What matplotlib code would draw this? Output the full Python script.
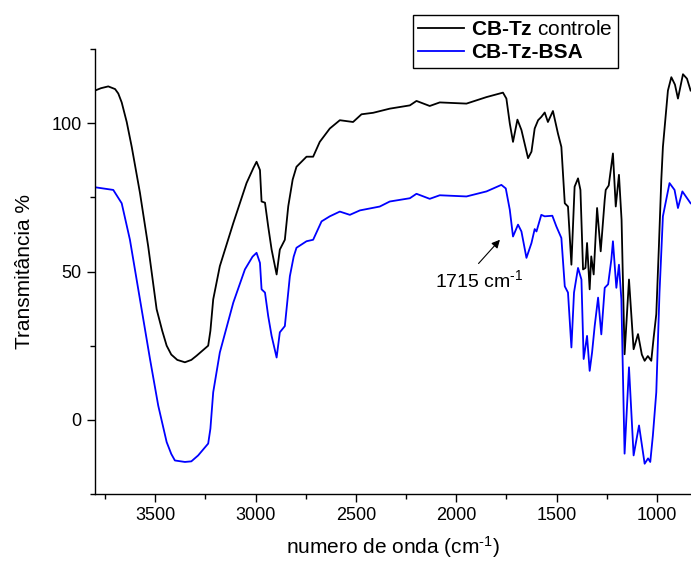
import matplotlib
matplotlib.use("Agg")
import matplotlib.pyplot as plt
from matplotlib.ticker import MultipleLocator

plt.rcParams['font.family'] = ['Liberation Sans', 'DejaVu Sans']
plt.rcParams['mathtext.fontset'] = 'custom'
plt.rcParams['mathtext.rm'] = 'Liberation Sans'
plt.rcParams['mathtext.bf'] = 'Liberation Sans:bold'
plt.rcParams['mathtext.it'] = 'Liberation Sans:italic'

# CB-Tz controle (black)
wn_ctrl = [3800, 3770, 3734, 3700, 3684, 3667, 3642, 3617, 3576, 3535, 3493, 3465, 3443, 3420,
           3390, 3352, 3320, 3294, 3236, 3225, 3211, 3178, 3111, 3045, 3010, 2995, 2978,
           2970, 2953, 2937, 2920, 2895, 2879, 2854, 2837, 2815, 2796, 2746, 2713, 2680,
           2630, 2580, 2514, 2472, 2414, 2331, 2231, 2198, 2132, 2082, 1949, 1849, 1767,
           1750, 1733, 1717, 1695, 1675, 1642, 1625, 1609, 1592, 1576, 1559, 1543, 1518,
           1493, 1476, 1459, 1443, 1426, 1410, 1393, 1381, 1368, 1356, 1348, 1335, 1327,
           1315, 1298, 1280, 1260, 1255, 1240, 1219, 1205, 1189, 1176, 1161, 1139, 1116,
           1094, 1075, 1061, 1045, 1028, 1016, 1003, 990, 978, 970, 945, 928, 910, 895,
           870, 850, 832]
t_ctrl = [111, 111.8, 112.4, 111.5, 110, 107, 100.4, 92, 76.5, 58.5, 37.3, 30, 25, 22,
          20.2, 19.4, 20.2, 21.6, 25, 30, 40.6, 51.8, 66.3, 79.8, 85, 87, 84.2,
          73.6, 73.2, 65.2, 57.4, 49, 57.4, 60.7, 72, 81, 85.3, 88.7, 88.7, 93.7,
          98.2, 101, 100.4, 103, 103.5, 104.9, 106, 107.5, 105.8, 107, 106.6, 108.8, 110.3,
          108.3, 99.9, 93.7, 101.2, 97.7, 88.2, 90.4, 98.2, 101, 102.1, 103.6, 100.4, 104.1,
          96.5, 92, 73, 71.9, 52.3, 78.6, 81.4, 77.5, 50.7, 51.2, 59.6, 44, 55.1,
          49, 71.4, 56.8, 74.2, 77.5, 79, 89.8, 71.9, 82.6, 67.4, 22.1, 47.3, 23.8,
          28.9, 22, 19.9, 21.5, 19.9, 27.8, 35.6, 58.5, 80.9, 92, 111, 115.5, 113, 108.3,
          116.5, 115, 111]

# CB-Tz-BSA (blue)
wn_bsa = [3800, 3709, 3667, 3626, 3576, 3526, 3485, 3443, 3420, 3402, 3352, 3320, 3286,
          3236, 3225, 3211, 3178, 3111, 3053, 3015, 2995, 2978, 2970, 2953, 2937, 2920,
          2895, 2879, 2854, 2829, 2810, 2796, 2746, 2713, 2671, 2630, 2580, 2530, 2480,
          2381, 2331, 2231, 2198, 2132, 2082, 1949, 1849, 1775, 1753, 1733, 1717, 1692,
          1675, 1650, 1625, 1609, 1600, 1576, 1559, 1521, 1501, 1476, 1459, 1443, 1426,
          1413, 1393, 1376, 1365, 1348, 1335, 1323, 1310, 1293, 1277, 1260, 1243, 1227,
          1219, 1202, 1189, 1177, 1161, 1139, 1116, 1089, 1061, 1044, 1033, 1020, 1003,
          987, 970, 937, 912, 895, 873, 832]
t_bsa = [78.4, 77.5, 73, 60.7, 40.6, 20.5, 4.8, -7.5, -11.5, -13.7, -14.2, -14, -12,
         -8, -3, 9.3, 22.7, 39.5, 50.7, 55, 56.3, 52.9, 44, 42.9, 35, 28.3,
         21, 29.5, 31.6, 48.4, 55, 58, 60.2, 60.7, 66.9, 68.6, 70.2, 69.1, 70.6,
         71.9, 73.6, 74.7, 76.2, 74.5, 75.7, 75.3, 77, 79.2, 78, 70.8, 61.8, 65.8,
         63.5, 54.6, 59.6, 64.3, 63.5, 69.1, 68.6, 68.8, 65.2, 61.3, 45, 42.9, 24.4,
         42.9, 51.2, 47.3, 20.5, 28.3, 16.5, 22.7, 31.6, 41.2, 28.8, 44.5, 45.7, 54,
         60.2, 44.5, 52.3, 40.6, -11.4, 17.7, -12, -1.9, -14.8, -13, -14.2, -5.3, 9.3,
         42.9, 68.6, 79.8, 77.5, 71.4, 77, 73]

fig = plt.figure(figsize=(6.91, 5.68), dpi=100)
ax = fig.add_axes([0.1375, 0.1303, 0.8625, 0.7834])

ax.plot(wn_ctrl, t_ctrl, color="black", lw=1.3, label=r"$\mathbf{CB‐Tz}$ controle")
ax.plot(wn_bsa, t_bsa, color="blue", lw=1.3, label="CB-Tz-BSA")

ax.set_xlim(3800, 830)
ax.set_ylim(-25, 125)
ax.xaxis.set_major_locator(MultipleLocator(500))
ax.xaxis.set_minor_locator(MultipleLocator(250))
ax.yaxis.set_major_locator(MultipleLocator(50))
ax.yaxis.set_minor_locator(MultipleLocator(25))
ax.tick_params(which="major", direction="out", length=6, width=1, labelsize=13)
ax.tick_params(which="minor", direction="out", length=3.5, width=1)

ax.spines["top"].set_visible(False)
ax.spines["right"].set_visible(False)
ax.spines["left"].set_linewidth(1)
ax.spines["bottom"].set_linewidth(1)

ax.set_xlabel("numero de onda (cm$^{‐1}$)", fontsize=15, labelpad=7)
ax.set_ylabel("Transmitância %", fontsize=15, labelpad=13)

# arrow to the 1715 band
ax.annotate("", xy=(1773, 61.4), xytext=(1898, 52),
            arrowprops=dict(arrowstyle="-|>", color="black", lw=0.8, mutation_scale=12))
ax.text(2107, 47, "1715 cm$^{‐1}$", fontsize=14, ha="left", va="center")

leg = fig.legend(loc="upper left", bbox_to_anchor=(413 / 691, 1 - 15 / 568),
                 fontsize=15, frameon=True, fancybox=False, framealpha=1,
                 edgecolor="black", handlelength=2.2, handletextpad=0.35,
                 borderpad=0.25, labelspacing=0.2, borderaxespad=0)
leg.get_frame().set_linewidth(1)
leg.get_texts()[1].set_fontweight("bold")

fig.savefig("out.png", dpi=100)
